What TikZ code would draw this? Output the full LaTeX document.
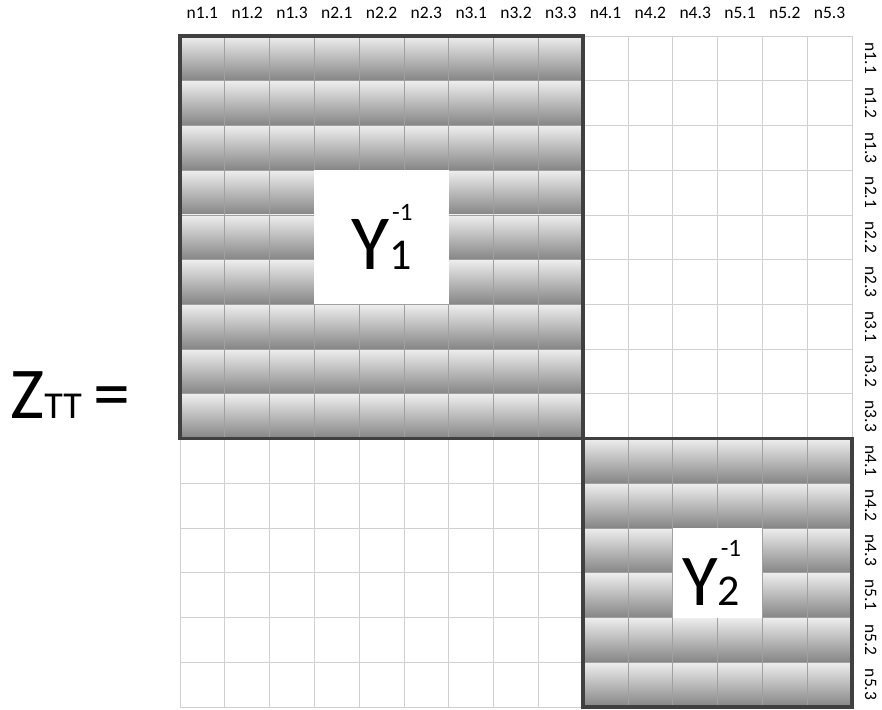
\documentclass[tikz,border=0pt]{standalone}
\usepackage{fontspec}
\setmainfont{Carlito}
\definecolor{cellTop}{HTML}{EEEEEE}
\definecolor{cellBot}{HTML}{858585}
\definecolor{gridDark}{HTML}{A0A0A0}
\definecolor{gridLight}{HTML}{D0D0D0}
\definecolor{frameCol}{HTML}{404040}
\begin{document}
\begin{tikzpicture}[x=1pt,y=-1pt,
  cellshade/.style={top color=cellTop,bottom color=cellBot,draw=gridDark,line width=0.8pt},
  cellempty/.style={draw=gridLight,line width=0.8pt},
  blockframe/.style={draw=frameCol,line width=3.5pt},
  lbl/.style={font=\fontsize{17.5}{18}\selectfont,inner sep=0pt},
  hole/.style={fill=white,draw=none,inner sep=0pt}]
\useasboundingbox[fill=white] (0,0) rectangle (882,709);
\def\cw{44.8}\def\ch{44.73}
% empty cells
\foreach \i in {0,...,14}{\foreach \j in {0,...,14}{
  \pgfmathtruncatemacro\s{((\i<9)&&(\j<9)) || ((\i>8)&&(\j>8)) ? 1 : 0}
  \ifnum\s=0
    \draw[cellempty] (180+\i*\cw,36+\j*\ch) rectangle ++(\cw,\ch);
  \fi
}}
% shaded cells
\foreach \i in {0,...,14}{\foreach \j in {0,...,14}{
  \pgfmathtruncatemacro\s{((\i<9)&&(\j<9)) || ((\i>8)&&(\j>8)) ? 1 : 0}
  \ifnum\s=1
    \shade[cellshade] (180+\i*\cw,36+\j*\ch) rectangle ++(\cw,\ch);
  \fi
}}
% holes
\fill[white] (180+3*\cw,36+3*\ch) rectangle (180+6*\cw,36+6*\ch);
\fill[white] (180+11*\cw,36+11*\ch) rectangle (180+13*\cw,36+13*\ch);
% block frames
\draw[blockframe] (180,36) rectangle (180+9*\cw,36+9*\ch);
\draw[blockframe] (180+9*\cw,36+9*\ch) rectangle (180+15*\cw,36+15*\ch);
% labels
\foreach \t [count=\k from 0] in {n1.1,n1.2,n1.3,n2.1,n2.2,n2.3,n3.1,n3.2,n3.3,n4.1,n4.2,n4.3,n5.1,n5.2,n5.3}{
  \node[lbl,anchor=base] (top\k) at (180+\k*\cw+0.5*\cw,19) {\t};
  \node[lbl,anchor=base,rotate=-90] (side\k) at (865,36+\k*\ch+0.5*\ch) {\t};
}
% block names
\node[anchor=base west,inner sep=0pt] (Y1) at (351,269)
  {\fontsize{78}{78}\selectfont Y\rlap{\hspace{3pt}\raisebox{49pt}{\fontsize{25}{25}\selectfont -1}}\fontsize{44}{44}\selectfont 1};
\node[anchor=base west,inner sep=0pt] (Y2) at (682,605)
  {\fontsize{73}{73}\selectfont Y\rlap{\hspace{3pt}\raisebox{49pt}{\fontsize{25}{25}\selectfont -1}}\fontsize{44}{44}\selectfont 2};
\node[anchor=base west,inner sep=0pt] (Z) at (10,418)
  {\fontsize{73}{73}\selectfont Z\fontsize{38}{38}\selectfont TT\hspace{12pt}\fontsize{74}{74}\selectfont =};
\end{tikzpicture}
\end{document}
